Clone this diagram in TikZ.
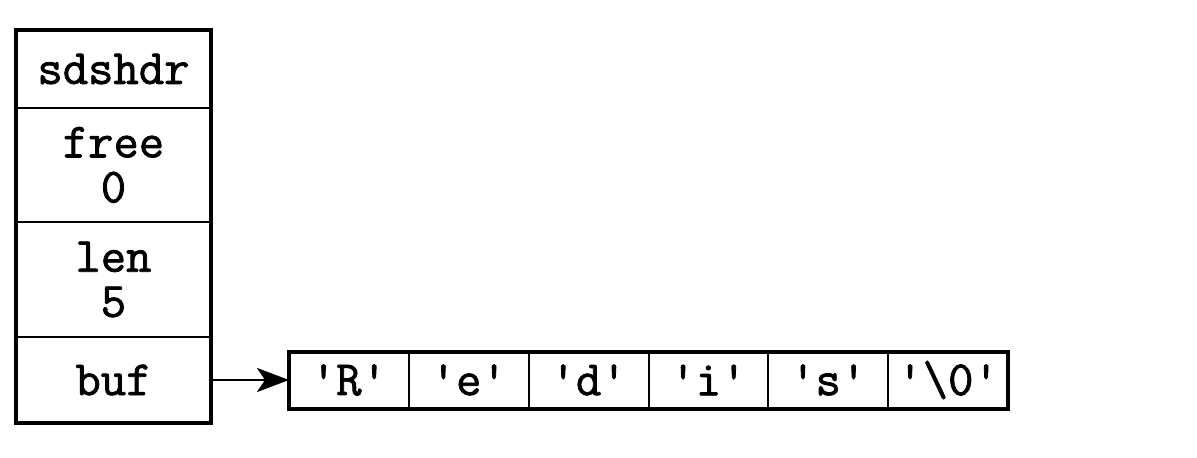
\documentclass[tikz,border=0pt]{standalone}
\usepackage{fontspec}
\setmonofont{Latin Modern Mono}[FakeBold=1.6]
\usetikzlibrary{arrows.meta,positioning}
\tikzset{
	field/.style={draw, line width=0.5mm, outer sep=0pt, inner sep=0pt, minimum width=4.875cm, align=center, font=\ttfamily\fontsize{35}{32}\selectfont},
	cell/.style={draw, line width=0.5mm, outer sep=0pt, inner sep=0pt, minimum width=2.996cm, minimum height=1.425cm, font=\ttfamily\fontsize{35}{32}\selectfont},
	frame/.style={line width=1mm}
}

\begin{document}
\begin{tikzpicture}
		%%%%% START %%%%%
		\useasboundingbox (0, 0) rectangle (29.925, 11.425);
		
		\node[field, minimum height=1.95cm] (sdshdr) at (2.8375, 9.7) {sdshdr};
		\node[field, minimum height=2.85cm, below=0pt of sdshdr] (free) {free\\0};
		\node[field, minimum height=2.875cm, below=0pt of free] (len) {len\\5};
		\node[field, minimum height=2.15cm, below=0pt of len] (buf) {buf};
		\draw[frame] (sdshdr.north west) rectangle (buf.south east);
		
		\node[cell, right=1.95cm of buf] (cR) {'R'};
		\node[cell, right=0pt of cR] (ce) {'e'};
		\node[cell, right=0pt of ce] (cd) {'d'};
		\node[cell, right=0pt of cd] (ci) {'i'};
		\node[cell, right=0pt of ci] (cs) {'s'};
		\node[cell, right=0pt of cs] (cnul) {'\textbackslash0'};
		\draw[frame] (cR.north west) rectangle (cnul.south east);
		
		\draw[line width=0.7mm, -{Stealth[length=0.8cm, width=0.6cm, inset=0.2cm]}] (buf.east) -- (cR.west);
		
		%%%%% END %%%%%
	\end{tikzpicture}
\end{document}
